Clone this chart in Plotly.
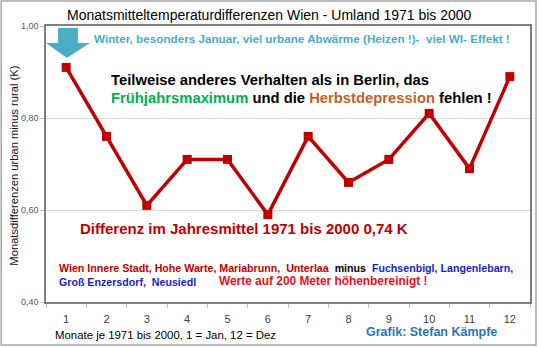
import plotly.graph_objects as go

months = [1, 2, 3, 4, 5, 6, 7, 8, 9, 10, 11, 12]
diff_values = [0.91, 0.76, 0.61, 0.71, 0.71, 0.59, 0.76, 0.66, 0.71, 0.81, 0.69, 0.89]
y_ticks = [0.40, 0.60, 0.80, 1.00]

W, H = 540, 347
L, R, T, B = 46, 532, 26, 302
FONT = "Liberation Sans, Arial, sans-serif"


def px(x):
    return (x - L) / (R - L)


def py(y):
    return (B - y) / (B - T)


fig = go.Figure()
fig.add_trace(go.Scatter(
    x=months, y=diff_values, mode="lines+markers",
    line=dict(color="#C00000", width=3.5),
    marker=dict(symbol="square", size=9, color="#C00000"),
    showlegend=False, hoverinfo="skip",
))

ann = []


def add(text, x, y, size, color="#000000", xanchor="left", bold=False, angle=0):
    t = f"<b>{text}</b>" if bold else text
    ann.append(dict(text=t, x=px(x), y=py(y), xref="paper", yref="paper",
                    xanchor=xanchor, yanchor="middle", showarrow=False,
                    textangle=angle,
                    font=dict(family=FONT, size=size, color=color)))


add("Monatsmitteltemperaturdifferenzen Wien - Umland 1971 bis 2000", 270, 15, 14, xanchor="center")
add("Monatsdifferenzen urban minus rural (K)", 13, 165.5, 11.2, color="#111111", xanchor="center", angle=-90)
add("Winter, besonders Januar, viel urbane Abwärme (Heizen !)-  viel WI- Effekt !", 92, 38.5, 11.7,
    color="#4BACC6", bold=True)
add("Teilweise anderes Verhalten als in Berlin, das", 109, 80, 14.8, bold=True)
add('<span style="color:#00B050">Frühjahrsmaximum</span> und die '
    '<span style="color:#C0622A">Herbstdepression</span> fehlen !', 109, 98, 14.8, bold=True)
add("Differenz im Jahresmittel 1971 bis 2000 0,74 K", 78, 229, 15, color="#C00000", bold=True)
add('<span style="color:#C00000">Wien Innere Stadt, Hohe Warte, Mariabrunn,  Unterlaa</span>'
    '  minus  <span style="color:#1A1ACC">Fuchsenbigl, Langenlebarn,</span>', 57, 268, 10.65, bold=True)
add("Groß Enzersdorf,  Neusiedl", 57, 282, 10.65, color="#1A1ACC", bold=True)
add("Werte auf 200 Meter höhenbereinigt !", 218, 281, 11.9, color="#E81123", bold=True)
add("Monate je 1971 bis 2000, 1 = Jan, 12 = Dez", 53, 335, 11.4)
add("Grafik: Stefan Kämpfe", 365, 332, 12.5, color="#2E75B6", bold=True)

arrow_pts = [(58, 28), (78, 28), (78, 43), (90, 43), (67, 58), (46, 43), (58, 43)]
path = "M " + " L ".join(f"{px(a):.5f},{py(b):.5f}" for a, b in arrow_pts) + " Z"

shapes = [
    dict(type="path", path=path, xref="paper", yref="paper",
         fillcolor="#4BACC6", line=dict(width=0)),
    dict(type="rect", xref="paper", yref="paper",
         x0=px(1), x1=px(538), y0=py(345), y1=py(1),
         line=dict(color="#A6A6A6", width=1.5), fillcolor="rgba(0,0,0,0)", layer="below"),
]

fig.update_layout(
    width=W, height=H,
    margin=dict(l=L, r=W - R, t=T, b=H - B),
    paper_bgcolor="white", plot_bgcolor="white",
    separators=",.",
    annotations=ann, shapes=shapes,
    xaxis=dict(range=[0.5, 12.5], tickvals=months, ticktext=[str(m) for m in months],
               ticks="outside", ticklen=6, tickcolor="rgba(0,0,0,0)",
               tickfont=dict(family=FONT, size=11, color="#404040"),
               showgrid=False, zeroline=False,
               showline=True, linecolor="#7F7F7F", linewidth=1.5, mirror=True,
               minor=dict(tickvals=[m + 0.5 for m in [0] + months], ticks="outside",
                          ticklen=4, tickcolor="#BFBFBF")),
    yaxis=dict(range=[0.40, 1.00], tickvals=y_ticks, tickformat=".2f",
               ticks="outside", ticklen=4, tickcolor="#BFBFBF",
               tickfont=dict(family=FONT, size=9, color="#595959"),
               showgrid=True, gridcolor="#D9D9D9", gridwidth=1, zeroline=False,
               showline=True, linecolor="#7F7F7F", linewidth=1.5, mirror=True),
)

fig.write_html("out.html")
